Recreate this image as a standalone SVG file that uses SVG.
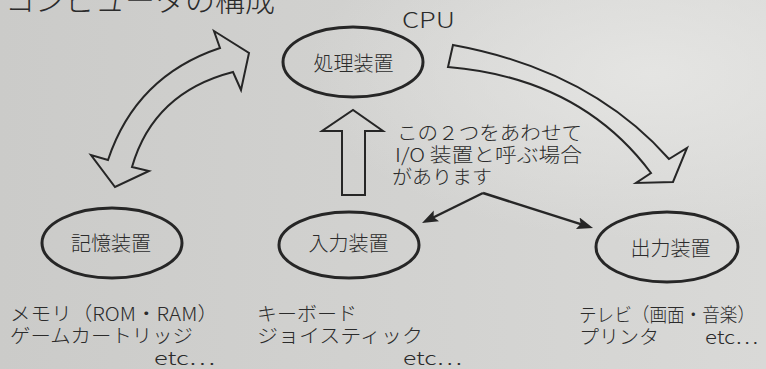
<svg xmlns="http://www.w3.org/2000/svg" width="766" height="369" viewBox="0 0 766 369">
<defs>
<linearGradient id="bg" x1="0" y1="0" x2="1" y2="0">
<stop offset="0" stop-color="#cbcbc9"/>
<stop offset="0.6" stop-color="#d3d3d1"/>
<stop offset="1" stop-color="#d9d9d7"/>
</linearGradient>
<radialGradient id="hl" cx="0.85" cy="0.2" r="0.45">
<stop offset="0" stop-color="#e6e6e4" stop-opacity="0.9"/>
<stop offset="1" stop-color="#e6e6e4" stop-opacity="0"/>
</radialGradient>
<marker id="ah" markerUnits="userSpaceOnUse" markerWidth="18" markerHeight="14" refX="8" refY="6" orient="auto">
<path d="M0,0 L16,6 L0,12 L3,6 Z" fill="#262626"/>
</marker>
<style>
.t{font-family:"Noto Sans CJK JP","Noto Sans",sans-serif;fill:#2b2b2b;font-weight:300;}
.lbl{font-size:20px;text-anchor:middle;}
.ell{fill:none;stroke:#262626;stroke-width:3;}
.blk{fill:none;stroke:#262626;stroke-width:2;stroke-linejoin:miter;}
.thin{fill:none;stroke:#262626;stroke-width:2.5;}
.txt{font-size:19px;}
</style>
</defs>
<rect width="766" height="369" fill="url(#bg)"/>
<rect width="766" height="369" fill="url(#hl)"/>

<g id="title">
<text class="t" x="5" y="11" font-size="30" textLength="270" lengthAdjust="spacingAndGlyphs">コンピュータの構成</text>
</g>

<g id="cpu">
<ellipse class="ell" cx="353" cy="62" rx="70" ry="35"/>
<text class="t lbl" x="353.5" y="71">処理装置</text>
<text class="t" x="402" y="28" font-size="22" textLength="53" lengthAdjust="spacingAndGlyphs">CPU</text>
</g>

<g id="memory">
<ellipse class="ell" cx="112" cy="243" rx="70" ry="35"/>
<text class="t lbl" x="111" y="251">記憶装置</text>
<text class="t txt" x="10" y="321" textLength="208" lengthAdjust="spacingAndGlyphs">メモリ（ROM・RAM）</text>
<text class="t txt" x="10" y="343" textLength="183" lengthAdjust="spacingAndGlyphs">ゲームカートリッジ</text>
<text class="t txt" x="154" y="365" textLength="61" lengthAdjust="spacingAndGlyphs">etc…</text>
</g>

<g id="input">
<ellipse class="ell" cx="349" cy="245" rx="70" ry="33"/>
<text class="t lbl" x="348.5" y="251">入力装置</text>
<text class="t txt" x="257" y="321" textLength="100" lengthAdjust="spacingAndGlyphs">キーボード</text>
<text class="t txt" x="257" y="343" textLength="166" lengthAdjust="spacingAndGlyphs">ジョイスティック</text>
<text class="t txt" x="403" y="365" textLength="59" lengthAdjust="spacingAndGlyphs">etc…</text>
</g>

<g id="output">
<ellipse class="ell" cx="667" cy="247" rx="71" ry="35"/>
<text class="t lbl" x="670.5" y="256">出力装置</text>
<text class="t txt" x="579" y="322" textLength="176" lengthAdjust="spacingAndGlyphs">テレビ（画面・音楽）</text>
<text class="t txt" x="579" y="344" textLength="80" lengthAdjust="spacingAndGlyphs">プリンタ</text>
<text class="t txt" x="705" y="344" textLength="53" lengthAdjust="spacingAndGlyphs">etc…</text>
</g>

<g id="note">
<text class="t txt" x="397" y="140" textLength="185" lengthAdjust="spacingAndGlyphs">この２つをあわせて</text>
<text class="t txt" x="395" y="162" textLength="187" lengthAdjust="spacingAndGlyphs">I/O 装置と呼ぶ場合</text>
<text class="t txt" x="392" y="184" textLength="100" lengthAdjust="spacingAndGlyphs">があります</text>
</g>

<g id="connectors">
<path class="blk" d="M108 160 Q136 76 220 48 L214 31 L249 53 L241 90 L233 72 Q153.5 92.5 132 167 L149 171 L115 187 L91 155 Z"/>
<path class="blk" d="M342 195 L342 131 L322 131 L353 110 L383 131 L365 131 L365 195 Z"/>
<path class="blk" d="M453 45 Q590 70 669 159 L687 148 L673 182 L636 183 L651 173 Q580 78 448 67 Z"/>
<path class="thin" d="M483 193 L429.2 219.5" marker-end="url(#ah)"/>
<path class="thin" d="M483 193 L585.4 225.6" marker-end="url(#ah)"/>
</g>
</svg>
